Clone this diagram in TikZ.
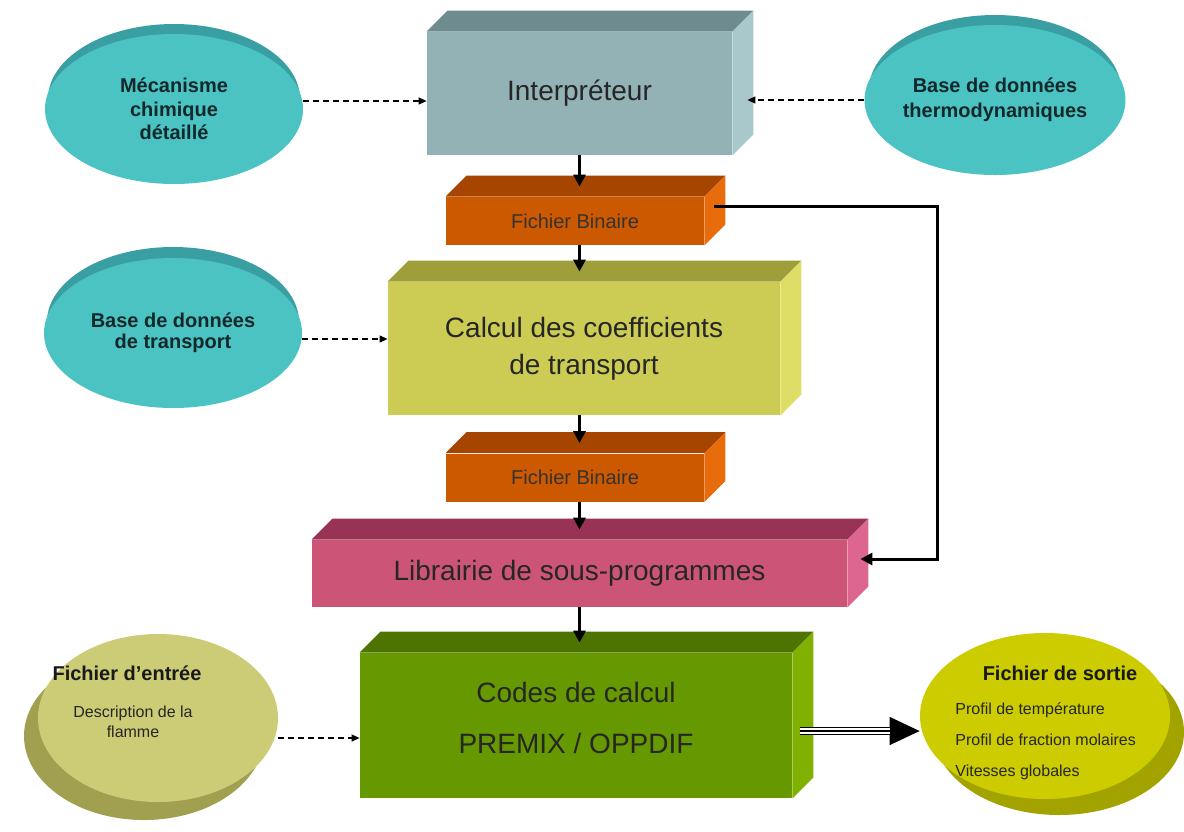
\documentclass[tikz,border=0pt]{standalone}
\usepackage{fontspec}
\setmainfont{Liberation Sans}
\usetikzlibrary{arrows.meta,shapes.geometric,backgrounds}

\definecolor{tealface}{HTML}{4BC3C3}
\definecolor{tealback}{HTML}{3A9FA2}
\definecolor{interpface}{HTML}{93B2B6}
\definecolor{interptop}{HTML}{6E8C8F}
\definecolor{interpside}{HTML}{A9C8CB}
\definecolor{orangeface}{HTML}{CC5800}
\definecolor{orangetop}{HTML}{A54500}
\definecolor{orangeside}{HTML}{E86B0C}
\definecolor{calcface}{HTML}{CCCC55}
\definecolor{calctop}{HTML}{9E9E3A}
\definecolor{calcside}{HTML}{DEDE66}
\definecolor{libface}{HTML}{CC5577}
\definecolor{libtop}{HTML}{993355}
\definecolor{libside}{HTML}{DD6690}
\definecolor{codesface}{HTML}{669900}
\definecolor{codestop}{HTML}{4D7300}
\definecolor{codesside}{HTML}{80B000}
\definecolor{entreeface}{HTML}{CCCC77}
\definecolor{entreeback}{HTML}{A0A050}
\definecolor{sortieface}{HTML}{CCCC00}
\definecolor{sortieback}{HTML}{A3A300}
\definecolor{textbleu}{HTML}{13282B}

\tikzset{
  bloc/.style={rectangle, inner sep=0pt, text=black!85, align=center,
    font=\fontsize{14}{18.5}\selectfont},
  fichier/.style={bloc, fill=orangeface, minimum width=129pt, minimum height=24pt,
    font=\fontsize{10}{12}\selectfont, text=black!80},
  base/.style={ellipse, inner sep=0pt, fill=tealface, minimum width=129pt,
    minimum height=75pt, align=center, text=textbleu,
    font=\bfseries\fontsize{10}{11.8}\selectfont},
  disque/.style={ellipse, inner sep=0pt, minimum width=120pt, minimum height=84pt},
  titre/.style={inner sep=0pt, text=black!90, font=\bfseries\fontsize{10}{12}\selectfont},
  petit/.style={inner sep=0pt, text=black!85, font=\fontsize{8}{10}\selectfont},
  fleche/.style={-{Triangle[length=6pt,width=6pt]}, line width=1.5pt},
  pointille/.style={-{Triangle[length=4pt,width=3.5pt]}, line width=0.6pt,
    dash pattern=on 3pt off 2pt},
}

% top and right faces of a block
\newcommand{\relief}[3]{%
  \fill[#2] (#1.north west) -- ++(21,-21) -- ([shift={(21,-21)}]#1.north east)
    -- (#1.north east) -- cycle;
  \fill[#3] (#1.north east) -- ++(21,-21) -- ([shift={(21,-21)}]#1.south east)
    -- (#1.south east) -- cycle;
}

\begin{document}
\begin{tikzpicture}[x=0.5pt, y=-0.5pt]
  \useasboundingbox (0,0) rectangle (1184,831);

  % blocs
  \node[bloc, fill=interpface, minimum width=152.5pt, minimum height=61.5pt]
    (interp) at (579.5,93.5) {Interpréteur};
  \node[fichier] (fb1) at (575,221) {Fichier Binaire};
  \node[bloc, fill=calcface, minimum width=196pt, minimum height=66.5pt]
    (calcul) at (584,348.5) {Calcul des coefficients\\de transport};
  \node[fichier] (fb2) at (575,477.5) {Fichier Binaire};
  \node[bloc, fill=libface, minimum width=267.5pt, minimum height=33.5pt]
    (lib) at (579.5,573.5) {Librairie de sous-programmes};
  \node[bloc, fill=codesface, minimum width=216pt, minimum height=72.5pt,
    font=\fontsize{14}{25.5}\selectfont]
    (codes) at (576,725.5) {Codes de calcul\\PREMIX / OPPDIF\\[-17.5pt]};

  \relief{interp}{interptop}{interpside}
  \relief{fb1}{orangetop}{orangeside}
  \relief{calcul}{calctop}{calcside}
  \relief{fb2}{orangetop}{orangeside}
  \relief{lib}{libtop}{libside}
  \relief{codes}{codestop}{codesside}

  % bases de donnees
  \node[base] (meca) at (174,109) {Mécanisme\\chimique\\détaillé};
  \node[base, font=\bfseries\fontsize{10}{12.5}\selectfont]
    (thermo) at (995,100) {Base de données\\thermodynamiques};
  \node[base, font=\bfseries\fontsize{10}{10.5}\selectfont]
    (transport) at (173,333) {Base de données\\de transport};

  % fichiers d'entree et de sortie
  \node[disque, fill=entreeface] (entree) at (158,718) {};
  \node[disque, fill=sortieface, minimum width=125pt, minimum height=83pt]
    (sortie) at (1045,716) {};
  \node[titre] (entreetitre) at (127,673) {Fichier d’entrée};
  \node[petit, align=center] (entreedesc) at (133,722) {Description de la\\flamme};
  \node[titre] (sortietitre) at (1060,673) {Fichier de sortie};
  \node[petit, align=left, anchor=west, font=\fontsize{8}{15.5}\selectfont]
    (sortieliste) at (955,741) {Profil de température\\Profil de fraction molaires\\Vitesses globales};

  \begin{scope}[on background layer]
    \fill[tealback] ([yshift=5pt]meca.center) ellipse [x radius=63pt, y radius=37.5pt];
    \fill[tealback] ([yshift=5pt]thermo.center) ellipse [x radius=63pt, y radius=37.5pt];
    \fill[tealback] ([yshift=5.5pt]transport.center) ellipse [x radius=63pt, y radius=37.5pt];
    \fill[entreeback] ([shift={(-14,18)}]entree.center) ellipse [x radius=60pt, y radius=42pt];
    \fill[sortieback] ([shift={(14,16)}]sortie.center) ellipse [x radius=62.5pt, y radius=41.5pt];
  \end{scope}

  % fleches
  \draw[fleche] (interp.south) -- ([yshift=5pt]interp.south |- fb1.north);
  \draw[fleche] (fb1.south -| interp.south) -- ([yshift=5pt]interp.south |- calcul.north);
  \draw[fleche] (calcul.south -| interp.south) -- ([yshift=5pt]interp.south |- fb2.north);
  \draw[fleche] (fb2.south -| interp.south) -- ([yshift=5pt]interp.south |- lib.north);
  \draw[fleche] (lib.south -| interp.south) -- ([yshift=5pt]interp.south |- codes.north);
  \draw[fleche] ([shift={(10,-15)}]fb1.east) -- ++(223,0) |- ([shift={(13,-14.5)}]lib.east);

  \coordinate (interpcote) at ([xshift=7.5pt]interp.east);
  \draw[pointille] ([yshift=4pt]meca.east) -- ([yshift=4pt]meca.east -| interp.west);
  \draw[pointille] (thermo.west) -- (thermo.west -| interpcote);
  \draw[pointille] ([yshift=-3pt]transport.east) -- ([yshift=-3pt]transport.east -| calcul.west);
  \draw[pointille] ([yshift=-10pt]entree.east) -- ([yshift=-10pt]entree.east -| codes.west);

  % sortie
  \coordinate (codescote) at ([shift={(8,5.5)}]codes.east);
  \draw[-{Triangle[length=15pt,width=14pt]}, line width=0.7pt]
    (codescote) -- (codescote -| sortie.west);
  \draw[line width=0.7pt, double=white, double distance=2.6pt]
    (codescote) -- ([xshift=-15pt]codescote -| sortie.west);
  \draw[line width=0.6pt] (codescote) -- ([xshift=-15pt]codescote -| sortie.west);
\end{tikzpicture}
\end{document}
